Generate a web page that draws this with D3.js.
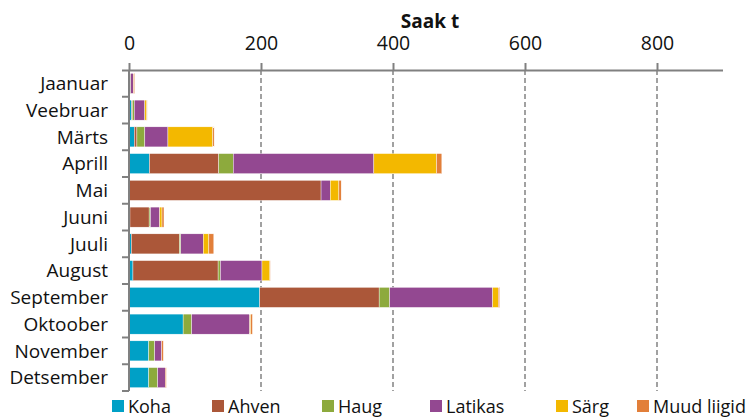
<!DOCTYPE html>
<html>
<head>
<meta charset="utf-8">
<script src="https://cdn.jsdelivr.net/npm/d3@7"></script>
<style>
  html, body { margin: 0; padding: 0; background: #fff; }
  svg { display: block; font-family: "Open Sans", "Noto Sans", sans-serif; }
</style>
</head>
<body>
<svg id="chart" width="753" height="418"></svg>
<script>
// Monthly catch (tonnes) by species
const months = ["Jaanuar", "Veebruar", "Märts", "Aprill", "Mai", "Juuni", "Juuli",
                "August", "September", "Oktoober", "November", "Detsember"];
const species = ["Koha", "Ahven", "Haug", "Latikas", "Särg", "Muud liigid"];

const koha    = [0.5,  4,  8,  31,   1,  1.5, 3.5,   6, 198, 82,  30,  30];
const ahven   = [0.5,  1,  4, 105, 290,   29,  73, 129, 181,  0,   0,   0];
const haug    = [1.5,  3, 12,  22,   0,    2,   2, 3.5,  16, 13,   9, 13.5];
const latikas = [4,   16, 35, 213,  14,   14,  34,  63, 156, 88, 10.5, 11.5];
const sarg    = [0.5,  3, 68,  95,  13,  3.5, 8.5,  12, 8.5, 1.5,  0,   0];
const muud    = [1.5, 0.5, 2,   8, 3.5,    3, 7.5, 0.5,   2, 2.5, 2.5, 1.5];

const ticks = [0, 200, 400, 600, 800];
const colors = ["#00A0C6", "#AB5739", "#8DAA3D", "#934891", "#F3B800", "#E27F3A"];

const rows = months.map((m, i) => ({
  month: m,
  "Koha": koha[i], "Ahven": ahven[i], "Haug": haug[i],
  "Latikas": latikas[i], "Särg": sarg[i], "Muud liigid": muud[i]
}));

const svg = d3.select("#chart");
const margin = { top: 70, left: 129 };

const x = d3.scaleLinear().domain([0, 900]).range([margin.left, 723]);
const y = d3.scaleBand().domain(months).range([margin.top, 391]).paddingInner(0.25).paddingOuter(0.125);
const color = d3.scaleOrdinal().domain(species).range(colors);

const stack = d3.stack().keys(species)(rows);

// dashed gridlines
svg.append("g")
  .selectAll("line")
  .data(ticks.filter(t => t > 0))
  .join("line")
  .attr("x1", d => x(d)).attr("x2", d => x(d))
  .attr("y1", margin.top).attr("y2", 391)
  .attr("stroke", "#8a8a8a")
  .attr("stroke-width", 1.6)
  .attr("stroke-dasharray", "5,3");

// stacked bars
svg.append("g")
  .selectAll("g")
  .data(stack)
  .join("g")
  .attr("fill", d => color(d.key))
  .selectAll("rect")
  .data(d => d)
  .join("rect")
  .attr("x", d => x(d[0]))
  .attr("width", d => Math.max(0, x(d[1]) - x(d[0])))
  .attr("y", d => y(d.data.month))
  .attr("height", y.bandwidth())
  .attr("stroke", "#fff")
  .attr("stroke-width", 0.4);

// top value axis
const xAxis = svg.append("g")
  .attr("transform", `translate(0,${margin.top})`)
  .call(d3.axisTop(x).tickValues(ticks).tickSize(7).tickPadding(13));
xAxis.select(".domain").attr("stroke", "#808080").attr("stroke-width", 2)
  .attr("d", `M${x(0) - 7},0.5H${x(900)}`);
xAxis.selectAll(".tick line").attr("stroke", "#808080").attr("stroke-width", 2);
xAxis.selectAll(".tick text").attr("font-size", 19.5).attr("fill", "#111")
  .attr("font-family", "'Open Sans', sans-serif");

// month axis with ticks on band boundaries
const yg = svg.append("g");
yg.append("line")
  .attr("x1", margin.left).attr("x2", margin.left)
  .attr("y1", margin.top).attr("y2", 391)
  .attr("stroke", "#808080").attr("stroke-width", 2);
const step = y.step();
const bounds = d3.range(months.length + 1).map(i => y(months[0]) - y.paddingOuter() * step + i * step);
yg.selectAll("line.b")
  .data(bounds.slice(1))
  .join("line")
  .attr("class", "b")
  .attr("x1", margin.left - 7).attr("x2", margin.left)
  .attr("y1", d => d).attr("y2", d => d)
  .attr("stroke", "#808080").attr("stroke-width", 2);
yg.selectAll("text")
  .data(months)
  .join("text")
  .attr("x", 108)
  .attr("y", d => y(d) + y.bandwidth() / 2)
  .attr("dy", "0.35em")
  .attr("text-anchor", "end")
  .attr("font-size", 19)
  .attr("fill", "#111")
  .text(d => d);

// axis title
svg.append("text")
  .attr("x", 430).attr("y", 28)
  .attr("text-anchor", "middle")
  .attr("font-size", 19)
  .attr("font-weight", "bold")
  .attr("fill", "#111")
  .text("Saak t");

// legend
const legendX = [112, 212, 322, 430, 556, 637];
const lg = svg.append("g")
  .selectAll("g")
  .data(species)
  .join("g")
  .attr("transform", (d, i) => `translate(${legendX[i]},400)`);
lg.append("rect").attr("width", 12).attr("height", 12).attr("fill", d => color(d));
lg.append("text")
  .attr("x", 16).attr("y", 13)
  .attr("font-size", 18)
  .attr("fill", "#111")
  .text(d => d);
</script>
</body>
</html>
